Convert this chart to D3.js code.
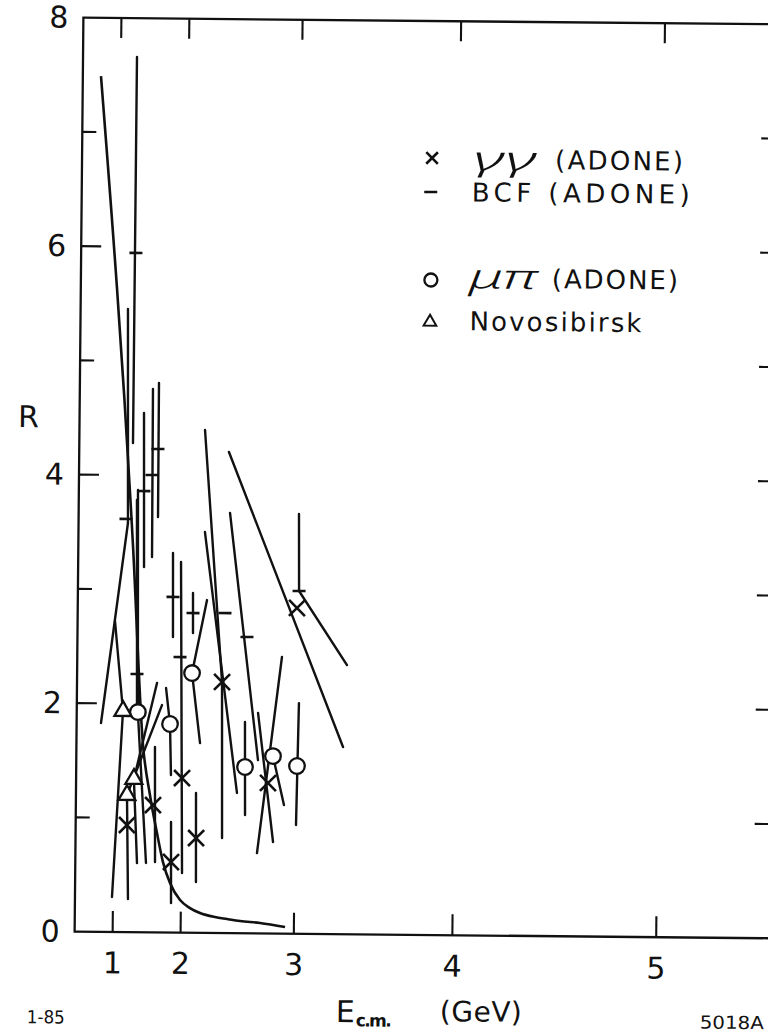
<!DOCTYPE html>
<html><head><meta charset="utf-8">
<script src="https://cdn.jsdelivr.net/npm/d3@7"></script>
<style>html,body{margin:0;padding:0;background:#fff;} svg{display:block;}</style>
</head><body>
<script>
// ---------- data (E in GeV, R) ----------
const gammaE = [1.268, 1.658, 1.889, 2.005, 2.160, 2.397, 2.796, 3.004];
const gammaR = [0.937, 1.114, 0.617, 1.353, 0.829, 2.197, 1.317, 2.851];

const bcfE = [1.328, 1.199, 1.488, 1.602, 1.679, 1.410, 1.883, 2.106, 1.970, 2.418, 2.613, 3.018];
const bcfR = [5.945, 3.616, 3.862, 4.003, 4.231, 2.260, 2.937, 2.798, 2.412, 2.801, 2.593, 3.000];

const muPiE = [1.429, 1.862, 2.102, 2.607, 2.833, 3.015];
const muPiR = [1.927, 1.825, 2.273, 1.455, 1.553, 1.468];

const novoE = [1.177, 1.377, 1.264];
const novoR = [1.935, 1.341, 1.200];

// error bar segments (end points in E, R)
const barE1 = [1.314,1.198,1.235,0.997,1.177,1.479,1.604,1.684,1.398,1.429,1.377,1.377,1.264,1.264,1.677,1.885,1.971,2.155,1.810,1.862,2.247,2.102,1.878,2.104,2.211,2.397,2.220,2.455,2.440,3.012,3.018,2.603,2.895,2.833,2.711,3.025,1.383];
const barR1 = [7.660,5.454,3.581,2.722,1.935,4.545,4.756,4.809,3.870,1.927,1.341,1.341,1.200,1.200,1.623,0.967,3.244,1.223,2.140,1.825,2.913,2.273,3.322,2.973,4.401,2.197,3.508,3.677,4.211,3.674,3.000,1.849,2.421,1.553,1.929,2.019,3.783];
const barE2 = [1.309,1.235,0.648,1.177,0.989,1.501,1.613,1.688,1.429,1.570,1.696,1.438,1.762,1.298,1.692,1.894,2.015,2.163,1.862,1.879,2.102,2.191,1.887,2.108,2.397,2.411,2.540,2.714,3.334,3.018,3.355,2.611,2.713,2.921,2.840,3.012,1.415];
const barR2 = [4.281,3.581,1.828,1.935,0.306,3.197,3.285,3.636,1.927,0.606,2.183,0.605,1.990,0.290,0.616,0.258,0.522,0.444,1.825,1.379,2.273,1.661,2.586,2.623,2.197,0.832,1.227,1.517,1.638,3.000,2.356,1.035,0.703,1.126,0.801,0.951,1.971];

// smooth curve
const curveE = [0.381, 1.325, 1.511, 1.616, 1.714, 1.793, 1.880, 1.996, 2.104, 2.207, 2.352, 2.463, 2.577, 2.743, 2.938];
const curveR = [7.49, 3.388, 1.639, 1.202, 0.870, 0.616, 0.433, 0.285, 0.216, 0.173, 0.139, 0.123, 0.107, 0.091, 0.058];

// axis ticks
const xTicks = [1, 2, 3, 4, 5];
const xTickLabels = ["1", "2", "3", "4", "5"];
const yTicksMajor = [2, 4, 6];
const yTicksMinor = [1, 3, 5, 7];
const yTickLabels = [0, 2, 4, 6, 8];
const rightTicks = [1, 2, 3, 4, 5, 6, 7];

// ---------- drawing ----------
const W = 768, H = 1033;
const ink = "#111";
const FONT = "DejaVu Sans, Liberation Sans, sans-serif";
const GREEK = "Noto Sans, DejaVu Sans, sans-serif";
const svg = d3.select("body").append("svg").attr("width", W).attr("height", H);
svg.append("rect").attr("width", W).attr("height", H).attr("fill", "#fff");
const g = svg.append("g").attr("transform", "rotate(0.55,430,478)");

const x = d3.scalePow().exponent(2).domain([-0.81, 5.5]).range([79, 779]);
const y = d3.scaleLinear().domain([0, 8]).range([935, 21]);
const [x0, x1] = x.range();
const [y0, y1] = y.range();

// frame
g.append("rect").attr("x", x0).attr("y", y1).attr("width", x1 - x0).attr("height", y0 - y1)
  .attr("fill", "none").attr("stroke", ink).attr("stroke-width", 2.3);

// bottom axis (inward ticks + labels)
const ax = g.append("g").attr("transform", `translate(0,${y0})`)
  .call(d3.axisBottom(x).tickValues(xTicks).tickSize(-21).tickSizeOuter(0).tickPadding(20)
    .tickFormat((d, i) => xTickLabels[i]));
ax.select(".domain").remove();
ax.selectAll("line").attr("stroke", ink).attr("stroke-width", 2.1);
ax.selectAll("text").attr("font-family", FONT).attr("font-size", 30).attr("fill", ink);

// top axis ticks
const at = g.append("g").attr("transform", `translate(0,${y1})`)
  .call(d3.axisTop(x).tickValues(xTicks).tickSize(-20).tickSizeOuter(0).tickFormat(""));
at.select(".domain").remove();
at.selectAll("line").attr("stroke", ink).attr("stroke-width", 2.1);

// left axis labels
const al = g.append("g").attr("transform", `translate(${x0},0)`)
  .call(d3.axisLeft(y).tickValues(yTickLabels).tickSize(0).tickPadding(15).tickFormat(d3.format("d")));
al.select(".domain").remove();
al.selectAll("text").attr("font-family", FONT).attr("font-size", 30).attr("fill", ink);

// left inward ticks
g.selectAll("line.ymaj").data(yTicksMajor).join("line").attr("class", "ymaj")
  .attr("x1", x0).attr("x2", x0 + 20).attr("y1", d => y(d)).attr("y2", d => y(d))
  .attr("stroke", ink).attr("stroke-width", 2.1);
g.selectAll("line.ymin").data(yTicksMinor).join("line").attr("class", "ymin")
  .attr("x1", x0).attr("x2", x0 + 14).attr("y1", d => y(d)).attr("y2", d => y(d))
  .attr("stroke", ink).attr("stroke-width", 2.1);
// right inward ticks
g.selectAll("line.yr").data(rightTicks).join("line").attr("class", "yr")
  .attr("x1", x1).attr("x2", x1 - 21).attr("y1", d => y(d)).attr("y2", d => y(d))
  .attr("stroke", ink).attr("stroke-width", 2.1);

// curve
const line = d3.line().x(i => x(curveE[i])).y(i => y(curveR[i])).curve(d3.curveMonotoneX);
g.append("path").attr("d", line(d3.range(curveE.length)))
  .attr("fill", "none").attr("stroke", ink).attr("stroke-width", 2.6);

// error bars
g.selectAll("line.bar").data(d3.range(barE1.length)).join("line").attr("class", "bar")
  .attr("x1", i => x(barE1[i])).attr("y1", i => y(barR1[i]))
  .attr("x2", i => x(barE2[i])).attr("y2", i => y(barR2[i]))
  .attr("stroke", ink).attr("stroke-width", 2.4).attr("stroke-linecap", "round");

// marker helpers
function drawCross(sel, cx, cy, s) {
  sel.append("path").attr("d", `M${cx - s},${cy - s}L${cx + s},${cy + s}M${cx - s},${cy + s}L${cx + s},${cy - s}`)
    .attr("stroke", ink).attr("stroke-width", 2.6).attr("fill", "none");
}
function drawDash(sel, cx, cy, h) {
  sel.append("line").attr("x1", cx - h).attr("x2", cx + h).attr("y1", cy).attr("y2", cy)
    .attr("stroke", ink).attr("stroke-width", 2.6);
}
function drawCircle(sel, cx, cy, r) {
  sel.append("circle").attr("cx", cx).attr("cy", cy).attr("r", r)
    .attr("fill", "#fff").attr("stroke", ink).attr("stroke-width", 2.3);
}
const tri = d3.symbol(d3.symbolTriangle, 125);
function drawTri(sel, cx, cy) {
  sel.append("path").attr("d", tri()).attr("transform", `translate(${cx},${cy})`)
    .attr("fill", "#fff").attr("stroke", ink).attr("stroke-width", 2.3);
}

const mk = g.append("g");
bcfE.forEach((e, i) => drawDash(mk, x(e), y(bcfR[i]), 6.5));
gammaE.forEach((e, i) => drawCross(mk, x(e), y(gammaR[i]), 8));
muPiE.forEach((e, i) => drawCircle(mk, x(e), y(muPiR[i]), 7.8));
novoE.forEach((e, i) => drawTri(mk, x(e), y(novoR[i])));

// legend
const lg = g.append("g").attr("font-family", FONT).attr("fill", ink);
drawCross(lg, 429, 158, 5.8);
lg.append("text").attr("x", 470).attr("y", 170).attr("font-family", GREEK)
  .attr("font-size", 34).attr("font-style", "italic").attr("font-weight", 300)
  .attr("textLength", 64).attr("lengthAdjust", "spacingAndGlyphs").text("γγ");
lg.append("text").attr("x", 552).attr("y", 168).attr("font-size", 26)
  .attr("textLength", 128).attr("lengthAdjust", "spacing").text("(ADONE)");
drawDash(lg, 428, 192, 6.5);
lg.append("text").attr("x", 469).attr("y", 201).attr("font-size", 26)
  .attr("textLength", 218).attr("lengthAdjust", "spacing").text("BCF (ADONE)");
drawCircle(lg, 429, 280, 6.5);
lg.append("text").attr("x", 467).attr("y", 288).attr("font-family", GREEK)
  .attr("font-size", 34).attr("font-style", "italic").attr("font-weight", 300)
  .attr("textLength", 68).attr("lengthAdjust", "spacingAndGlyphs").text("μπ");
lg.append("text").attr("x", 550).attr("y", 287).attr("font-size", 26)
  .attr("textLength", 126).attr("lengthAdjust", "spacing").text("(ADONE)");
lg.append("path").attr("d", d3.symbol(d3.symbolTriangle, 70)()).attr("transform", "translate(428.5,322)")
  .attr("fill", "#fff").attr("stroke", ink).attr("stroke-width", 2);
lg.append("text").attr("x", 468).attr("y", 330).attr("font-size", 26)
  .attr("textLength", 172).attr("lengthAdjust", "spacing").text("Novosibirsk");

// axis titles and annotations
const tx = g.append("g").attr("font-family", FONT).attr("fill", ink);
tx.append("text").attr("x", 28).attr("y", 431).attr("font-size", 30).attr("text-anchor", "middle").text("R");
tx.append("text").attr("x", 341).attr("y", 1023).attr("font-size", 30).text("E");
tx.append("text").attr("x", 361).attr("y", 1027).attr("font-size", 17).attr("font-weight", "bold")
  .attr("textLength", 36).attr("lengthAdjust", "spacing").text("c.m.");
tx.append("text").attr("x", 445).attr("y", 1021).attr("font-size", 28)
  .attr("textLength", 82).attr("lengthAdjust", "spacing").text("(GeV)");
tx.append("text").attr("x", 32).attr("y", 1027).attr("font-size", 18)
  .attr("textLength", 38).attr("lengthAdjust", "spacingAndGlyphs").text("1-85");
tx.append("text").attr("x", 705).attr("y", 1026).attr("font-size", 18)
  .attr("textLength", 64).attr("lengthAdjust", "spacingAndGlyphs").text("5018A");
</script>
</body></html>
